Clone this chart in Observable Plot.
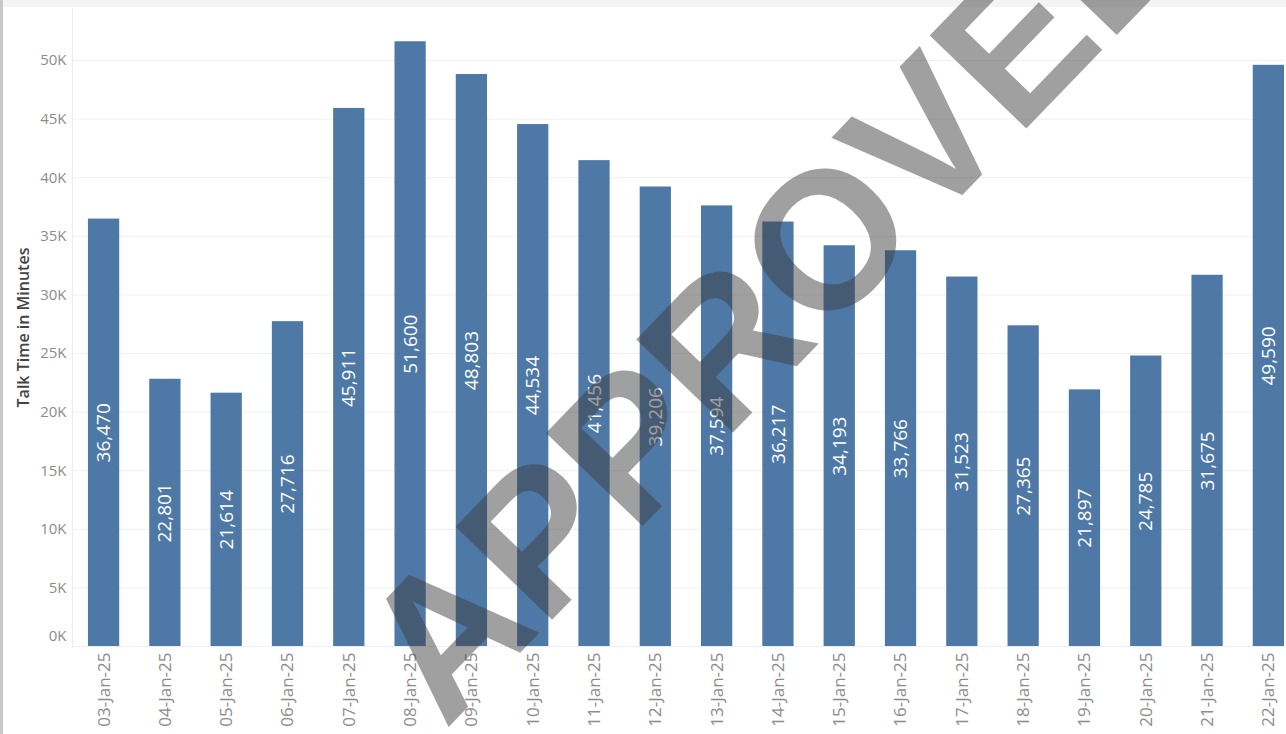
<!DOCTYPE html>
<html>
<head>
<meta charset="utf-8">
<script src="https://cdn.jsdelivr.net/npm/d3@7"></script>
<script src="https://cdn.jsdelivr.net/npm/@observablehq/plot@0.6"></script>
<style>
  html, body { margin: 0; padding: 0; background: #fff; }
  #wrap { position: relative; width: 1286px; height: 734px; overflow: hidden; }
  #topstrip { position: absolute; left: 3px; top: 0; width: 1283px; height: 7px; background: #f4f4f4; }
  #leftstrip { position: absolute; left: 0; top: 0; width: 3px; height: 734px; background: #c8c8c8; }
  #chart { position: absolute; left: 0; top: 0; }
</style>
</head>
<body>
<div id="wrap">
  <div id="topstrip"></div>
  <div id="leftstrip"></div>
  <div id="chart"></div>
</div>
<script>
const dates = ["03-Jan-25","04-Jan-25","05-Jan-25","06-Jan-25","07-Jan-25","08-Jan-25","09-Jan-25","10-Jan-25","11-Jan-25","12-Jan-25","13-Jan-25","14-Jan-25","15-Jan-25","16-Jan-25","17-Jan-25","18-Jan-25","19-Jan-25","20-Jan-25","21-Jan-25","22-Jan-25"];
const talkMinutes = [36470,22801,21614,27716,45911,51600,48803,44534,41456,39206,37594,36217,34193,33766,31523,27365,21897,24785,31675,49590];
const yTicks = [0,5000,10000,15000,20000,25000,30000,35000,40000,45000,50000];
const yTitle = "Talk Time in Minutes";
const watermark = "APPROVED";

const data = dates.map((d, i) => ({date: d, value: talkMinutes[i]}));
const fmtK = v => `${v / 1000}K`;
const fmtN = d3.format(",");

const plot = Plot.plot({
  width: 1286,
  height: 734,
  marginLeft: 72,
  marginRight: 2,
  marginTop: 8,
  marginBottom: 88,
  style: {fontFamily: "'Open Sans', sans-serif", background: "transparent"},
  x: {type: "band", domain: dates, paddingInner: 0.49, paddingOuter: 0.13, align: 1, round: false, label: null},
  y: {domain: [0, 54437], label: null},
  marks: [
    Plot.ruleY(yTicks, {stroke: "#efefef", strokeWidth: 1}),
    Plot.frame({anchor: "left", stroke: "#ececec"}),
    Plot.barY(data, {x: "date", y: "value", fill: "#4e79a7"}),
    Plot.text(data, {x: "date", y: d => d.value / 2, text: d => fmtN(d.value), rotate: -90, fill: "#ffffff", fontSize: 19}),
    Plot.axisY(yTicks.filter(t => t > 0), {tickFormat: fmtK, tickSize: 0, tickPadding: 6, fontSize: 15, color: "#8c8c8c", label: null}),
    Plot.axisY([0], {tickFormat: fmtK, tickSize: 0, tickPadding: 6, fontSize: 15, color: "#8c8c8c", dy: -10, label: null}),
    Plot.axisX({tickRotate: -90, tickSize: 0, tickPadding: 6, fontSize: 17, color: "#8c8c8c", label: null}),
    Plot.text([yTitle], {frameAnchor: "left", textAnchor: "middle", dx: -49, rotate: -90, fontSize: 16, fontWeight: 600, fill: "#444"}),
    Plot.text([watermark], {frameAnchor: "middle", textAnchor: "middle", dx: 102, dy: -34, rotate: -46, fontSize: 195, fontWeight: "bold", fontFamily: "'Liberation Sans', Arial, sans-serif", fill: "#3e3e3e", fillOpacity: 0.49})
  ]
});
document.getElementById("chart").appendChild(plot);
</script>
</body>
</html>
